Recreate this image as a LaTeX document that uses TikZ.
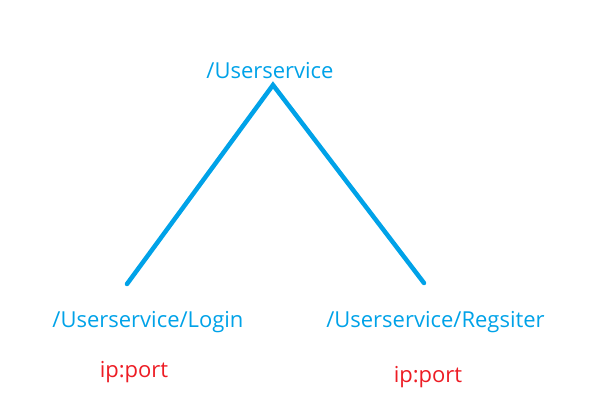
\documentclass[tikz,border=0pt]{standalone}
\usepackage{fontspec}
\setmainfont{Open Sans}
\definecolor{pblue}{HTML}{00A2E8}
\definecolor{pred}{HTML}{ED1C24}
\begin{document}
\begin{tikzpicture}[x=1pt,y=-1pt,
  lbl/.style={text=pblue,font=\fontsize{22}{26}\selectfont,inner sep=0pt},
  addr/.style={text=pred,font=\fontsize{22}{26}\selectfont,inner sep=0pt},
  edge/.style={draw=pblue,line width=4.5pt,line cap=round}]
\useasboundingbox (0,0) rectangle (590,404);
\node[lbl,anchor=base] (root) at (270,79) {/Userservice};
\node[lbl,anchor=base] (login) at (148,327) {/Userservice/Login};
\node[lbl,anchor=base] (reg) at (435.5,327) {/Userservice/Regsiter};
\node[addr,anchor=base] (ip1) at (134,377) {ip:port};
\node[addr,anchor=base] (ip2) at (428,382) {ip:port};
\coordinate (apex) at (273,85);
\coordinate (lend) at (127,284);
\coordinate (rend) at (424,283);
\draw[edge] (lend) -- (apex) -- (rend);
\end{tikzpicture}
\end{document}
